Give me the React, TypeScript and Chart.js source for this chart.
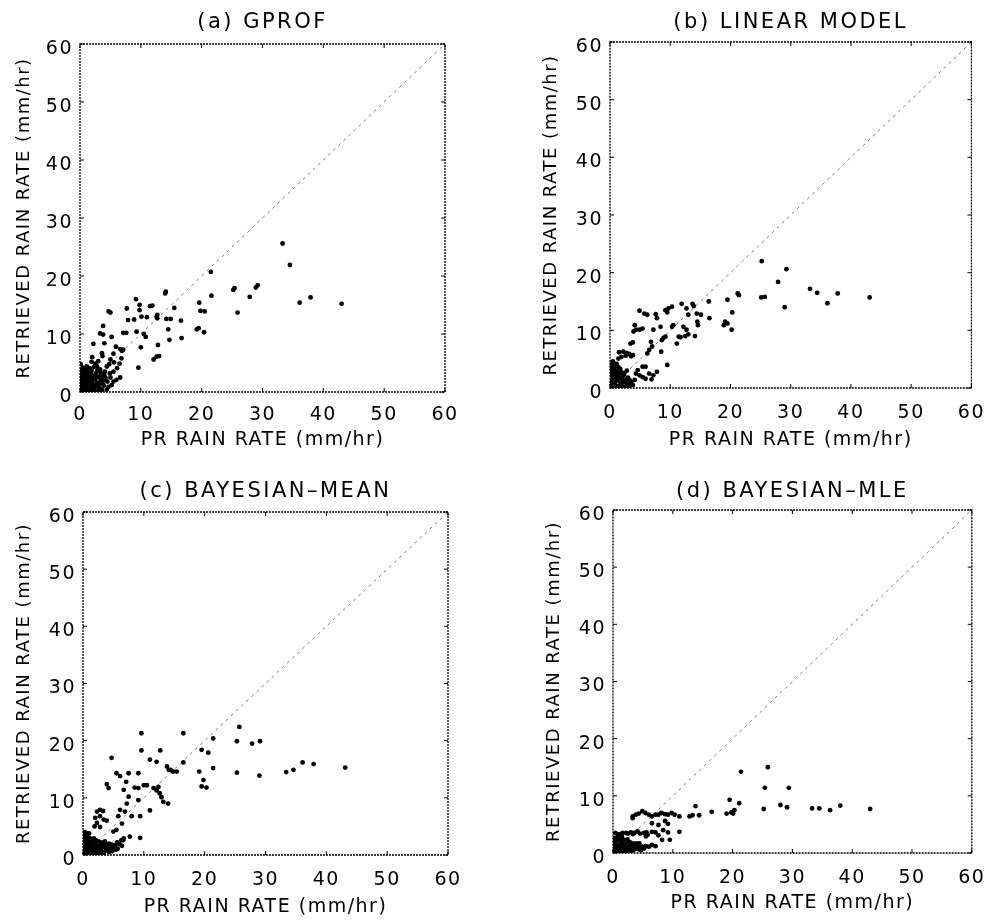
import React, { useEffect, useRef } from "react";
import { Chart, registerables } from "chart.js";

Chart.register(...registerables);

// ---------- data ----------
const AXIS_TICKS = [0, 10, 20, 30, 40, 50, 60];
const X_TITLE = "PR RAIN RATE (mm/hr)";
const Y_TITLE = "RETRIEVED RAIN RATE (mm/hr)";
const ONE_TO_ONE = [0, 60];

const gprofPoints: number[][] = [
  [33.3, 25.6], [34.5, 21.9], [36.1, 15.4], [37.9, 16.3], [43.0, 15.2],
  [29.2, 18.4], [28.9, 18.0], [27.9, 16.4], [25.9, 13.7], [25.4, 17.9], [25.2, 17.6],
  [21.6, 16.6], [21.5, 20.7], [19.6, 15.4], [19.8, 14.0], [20.5, 13.9], [19.2, 10.8], [19.5, 11.0], [20.4, 10.3],
  [16.6, 12.3], [16.7, 9.3], [15.5, 14.5], [14.2, 12.6], [14.9, 12.6], [14.5, 10.8], [14.7, 9.0], [14.1, 17.3], [14.0, 17.0],
  [12.7, 13.3], [12.7, 12.7], [12.6, 13.0], [12.8, 8.1], [12.1, 5.6], [12.6, 6.1], [13.0, 6.2], [11.5, 14.8], [11.9, 14.9],
  [11.0, 12.9], [10.1, 13.0], [10.5, 10.0], [10.8, 9.5], [10.0, 7.7], [9.6, 4.2], [9.8, 14.1], [9.8, 15.0], [9.2, 16.0], [8.9, 12.5], [9.3, 10.4],
  [7.7, 14.4], [7.9, 12.4], [7.1, 10.2], [7.6, 10.2], [6.8, 5.8], [6.5, 4.9], [6.1, 4.1], [6.6, 7.4], [6.9, 7.1], [7.1, 7.3], [5.9, 7.8], [5.5, 6.6],
  [4.7, 13.9], [5.0, 13.7], [5.2, 9.5], [3.8, 11.4], [3.3, 10.1], [3.8, 9.9], [4.0, 8.4], [2.2, 8.3], [3.6, 6.7], [3.7, 6.2],
  [0.1, 0.1], [0.3, 0.5], [0.5, 0.2], [0.2, 1.0], [0.6, 1.2], [0.9, 0.4], [1.0, 0.9], [1.3, 0.2], [1.4, 1.5], [0.4, 1.8],
  [0.8, 2.2], [1.2, 2.6], [0.3, 2.9], [0.7, 3.4], [1.1, 3.8], [0.5, 4.2], [1.6, 0.6], [1.8, 1.1], [2.0, 1.9], [1.7, 2.4],
  [2.2, 2.8], [1.5, 3.1], [1.9, 3.6], [2.4, 0.3], [2.6, 1.0], [2.8, 1.6], [2.5, 2.2], [3.0, 2.6], [2.7, 3.3], [3.2, 0.7],
  [3.1, 1.4], [3.4, 2.0], [3.3, 3.9], [2.3, 4.3], [1.9, 5.2], [2.5, 4.9], [1.1, 4.4], [0.2, 3.6], [0.1, 2.2], [3.6, 3.0],
  [4.1, 3.5], [4.9, 3.2], [5.5, 3.5], [4.4, 4.4], [4.2, 2.4], [3.9, 1.1], [4.7, 0.9], [5.2, 1.2], [5.5, 1.8], [6.0, 2.1],
  [6.6, 2.5], [4.4, 0.4], [5.0, 5.6], [5.6, 5.1], [4.8, 4.8], [1.5, 0.05], [2.9, 0.2], [3.6, 0.4], [0.05, 1.5], [0.1, 4.8],
  [3.0, 5.3], [2.0, 6.0],
  [0.5, 0.6], [0.8, 0.1], [1.1, 1.6], [1.7, 1.7], [2.3, 0.7], [2.1, 2.3], [0.9, 2.9], [1.4, 2.1], [0.6, 2.6], [1.8, 3.0],
  [2.6, 2.7], [2.9, 3.8], [3.5, 2.6], [3.9, 2.1], [3.7, 1.5], [1.2, 3.3], [0.4, 3.9], [1.6, 4.1], [2.8, 4.4], [0.2, 0.7],
  [1.9, 0.3], [3.0, 1.0], [2.2, 1.3], [0.7, 1.6], [1.3, 0.7], [3.4, 3.3], [4.5, 1.8], [4.0, 2.9], [5.0, 2.5], [0.1, 0.5],
];

const linearPoints: number[][] = [
  [25.2, 22.0], [29.3, 20.6], [27.9, 18.4], [33.2, 17.2], [34.4, 16.5], [37.8, 16.4], [36.1, 14.7], [43.1, 15.7], [29.0, 14.0], [25.1, 15.7], [25.7, 15.8],
  [21.2, 16.4], [21.4, 16.1], [19.5, 15.3], [20.3, 13.1], [19.1, 11.5], [19.5, 11.2], [18.9, 10.9], [20.2, 10.1],
  [16.4, 15.0], [16.5, 12.1], [15.1, 12.7], [14.4, 12.9], [14.5, 11.5], [14.6, 10.9], [14.1, 9.0], [13.7, 14.6], [13.9, 14.2],
  [11.9, 14.6], [12.7, 13.8], [13.0, 12.7], [9.7, 13.8], [10.3, 14.1], [9.2, 13.5], [9.5, 13.1],
  [12.2, 10.6], [12.7, 10.1], [13.0, 9.3], [12.5, 9.0], [11.4, 8.9], [11.7, 8.8], [11.1, 7.7], [10.3, 10.6], [10.5, 10.9],
  [9.2, 8.9], [8.6, 8.3], [8.9, 8.7], [8.4, 10.6], [7.8, 12.1], [7.2, 10.1],
  [6.8, 8.0], [7.0, 7.2], [6.5, 6.6], [6.2, 6.0], [8.5, 6.3], [9.5, 4.0], [7.6, 12.8], [5.7, 12.9], [6.2, 12.7], [4.9, 13.4],
  [5.4, 10.3], [4.9, 10.1], [4.3, 10.1], [3.9, 9.8], [4.1, 10.9], [3.4, 7.7], [3.8, 7.9],
  [1.5, 6.2], [2.2, 6.3], [2.7, 6.1], [3.2, 5.9], [3.8, 5.7], [1.4, 5.1], [1.9, 5.4], [2.6, 5.6], [3.5, 5.5],
  [4.3, 2.5], [4.9, 2.2], [5.4, 1.9], [5.9, 1.6], [6.5, 2.5], [7.2, 2.2], [7.8, 2.8], [5.4, 3.7], [5.9, 3.7], [4.6, 3.1], [6.9, 1.5],
  [0.1, 0.2], [0.3, 0.6], [0.6, 0.2], [0.2, 1.2], [0.7, 1.0], [1.0, 0.4], [1.2, 1.3], [1.5, 0.3], [0.4, 2.0], [0.9, 2.3],
  [1.3, 2.0], [0.2, 3.0], [0.6, 3.4], [1.0, 3.0], [1.7, 1.0], [1.9, 0.5], [2.1, 1.5], [2.4, 0.2], [2.6, 1.0], [2.9, 0.6],
  [3.2, 0.3], [3.5, 1.0], [2.3, 2.2], [1.8, 2.8], [0.3, 4.0], [0.5, 4.6], [3.0, 1.8], [3.8, 0.5], [4.1, 1.4], [2.8, 3.0],
  [1.4, 3.6], [0.1, 3.6],
  [0.4, 0.9], [0.8, 0.7], [1.1, 1.8], [1.6, 1.6], [0.5, 1.5], [0.3, 2.5], [0.8, 2.8], [1.2, 2.6], [1.6, 2.2], [2.0, 2.0],
  [2.2, 1.0], [0.7, 3.8], [1.1, 4.2], [0.2, 4.4], [2.7, 1.5], [3.3, 1.3], [2.0, 0.1], [1.2, 0.1], [0.1, 0.8], [0.5, 0.1],
  [1.7, 3.3], [2.4, 2.6],
];

const bayesMeanPoints: number[][] = [
  [25.7, 22.4], [25.3, 19.9], [27.8, 19.5], [29.1, 19.9], [16.5, 21.3], [9.6, 21.3], [21.4, 20.4], [19.5, 18.4], [20.6, 17.9], [12.7, 18.3], [9.6, 18.3], [4.7, 17.0],
  [11.0, 16.7], [12.1, 16.3], [16.5, 16.2], [13.8, 15.5], [14.4, 14.9], [14.8, 14.6], [15.4, 14.6], [14.1, 14.9], [21.4, 15.2], [19.1, 14.6], [19.8, 13.1], [19.5, 12.0], [20.3, 11.8],
  [25.3, 14.4], [29.0, 13.9], [33.4, 14.5], [34.6, 14.9], [36.1, 16.2], [37.9, 15.9], [43.1, 15.3],
  [5.5, 14.3], [6.1, 13.8], [7.5, 14.3], [9.1, 14.3], [7.1, 12.8], [6.7, 11.4], [3.9, 12.4], [4.2, 11.7], [8.5, 11.8], [9.1, 11.7], [10.0, 12.2], [10.5, 12.2],
  [11.6, 11.7], [12.1, 11.3], [12.6, 10.8], [12.9, 10.1], [13.2, 9.3], [12.4, 11.9], [14.0, 9.0], [7.5, 10.2], [7.2, 9.0], [6.9, 7.6], [9.1, 9.6], [11.0, 7.8], [8.0, 6.8], [9.4, 6.8],
  [6.1, 7.9], [5.8, 6.8], [6.4, 5.5], [5.5, 4.4], [5.0, 4.1], [7.7, 3.2], [9.4, 3.0], [6.6, 2.6],
  [2.3, 7.6], [2.8, 7.9], [3.3, 7.7], [2.8, 6.8], [2.0, 6.5], [2.3, 5.6], [3.4, 6.2], [3.9, 6.0], [2.8, 4.9], [1.9, 5.0],
  [0.1, 0.2], [0.3, 0.7], [0.6, 0.2], [0.2, 1.4], [0.7, 1.1], [1.0, 0.5], [1.3, 1.3], [1.6, 0.3], [0.4, 2.2], [0.9, 2.5],
  [1.4, 2.1], [0.2, 3.0], [0.6, 3.4], [1.1, 3.0], [1.8, 1.2], [2.1, 0.6], [2.3, 1.6], [2.6, 0.3], [2.9, 1.1], [3.2, 0.6],
  [3.5, 1.4], [3.8, 0.8], [4.1, 1.6], [4.4, 1.0], [4.7, 1.8], [5.0, 1.2], [5.3, 1.6], [5.7, 1.1], [6.0, 1.9], [2.5, 2.4],
  [1.8, 2.9], [3.0, 2.2], [0.3, 4.0], [3.3, 1.9], [4.3, 0.5], [0.1, 3.6], [1.0, 3.8], [5.6, 2.2], [6.3, 2.6], [6.7, 2.9],
  [0.05, 1.0],
  [0.4, 0.4], [0.8, 0.8], [1.2, 0.2], [0.5, 1.6], [1.0, 1.9], [1.6, 1.7], [2.0, 2.1], [2.4, 1.1], [2.7, 1.7], [3.1, 1.5],
  [3.4, 0.3], [3.7, 1.9], [4.0, 1.2], [4.6, 1.4], [5.1, 1.7], [5.4, 0.9], [0.7, 2.9], [1.4, 2.7], [2.1, 2.6], [0.3, 3.4],
  [0.6, 3.8], [1.5, 0.7], [2.0, 0.2], [2.9, 0.5], [4.8, 0.7], [1.1, 1.4], [0.2, 2.6], [3.6, 2.4], [4.3, 2.0], [6.4, 1.6],
];

const bayesMlePoints: number[][] = [
  [25.9, 15.0], [21.4, 14.2], [25.4, 11.4], [29.4, 11.4], [19.5, 9.3], [21.1, 8.7], [25.2, 7.7], [28.0, 8.4], [29.1, 8.0],
  [33.3, 7.8], [34.5, 7.8], [36.3, 7.5], [38.0, 8.3], [43.0, 7.7],
  [19.0, 6.9], [19.8, 7.1], [20.3, 7.5], [20.1, 6.9], [16.5, 7.2], [13.8, 8.2], [14.4, 6.6], [13.3, 6.6], [12.8, 6.4],
  [11.1, 6.4], [10.3, 6.7], [9.8, 7.0], [9.2, 6.7], [8.7, 6.8], [8.1, 7.0], [7.6, 6.7], [7.1, 6.7], [6.5, 6.4], [6.0, 6.7],
  [5.4, 7.0], [4.9, 7.3], [4.3, 6.9], [3.8, 6.7], [3.3, 6.4], [3.3, 6.1],
  [8.7, 5.6], [9.2, 5.1], [7.6, 4.9], [6.5, 5.2],
  [11.1, 3.7], [9.5, 2.3], [8.2, 2.3], [7.6, 3.1], [8.4, 4.0], [9.2, 3.6], [6.5, 3.7], [7.1, 3.6], [5.5, 2.9],
  [2.2, 3.5], [3.0, 3.6], [3.6, 3.5], [4.1, 3.8], [5.6, 3.6], [5.8, 3.2],
  [5.5, 1.2], [6.0, 1.1], [6.5, 1.4], [7.1, 1.2], [1.1, 2.2], [1.7, 1.9], [2.8, 1.9], [3.3, 1.7], [3.9, 1.7], [4.4, 1.7], [4.9, 1.1],
  [0.1, 0.1], [0.3, 0.5], [0.6, 0.2], [0.2, 1.0], [0.7, 0.9], [1.0, 0.4], [1.3, 1.1], [1.6, 0.3], [0.4, 1.8], [0.9, 2.4],
  [1.4, 1.6], [0.3, 2.6], [0.8, 3.0], [1.9, 0.8], [2.2, 0.3], [2.5, 1.2], [2.8, 0.6], [3.1, 1.0], [3.4, 0.5], [3.7, 1.2],
  [4.0, 0.8], [4.4, 0.6], [2.0, 1.6], [1.5, 2.8], [0.5, 0.7], [2.4, 2.4],
  [0.4, 0.3], [0.8, 0.6], [1.2, 0.7], [0.5, 1.3], [1.0, 1.4], [1.6, 1.3], [2.0, 0.5], [2.3, 1.0], [2.7, 1.3], [3.0, 0.4],
  [3.5, 0.9], [0.2, 2.0], [0.6, 2.2], [1.3, 2.4], [1.8, 2.3], [4.2, 1.2], [4.7, 0.5], [5.2, 0.8], [0.9, 0.1], [1.8, 0.1],
  [0.3, 1.5], [2.6, 2.0], [1.0, 3.3], [0.4, 3.5], [1.6, 3.5], [2.5, 3.4], [3.3, 3.3], [4.5, 3.4], [5.2, 3.5],
];

const PANEL_TITLES = ["(a) GPROF", "(b) LINEAR MODEL", "(c) BAYESIAN\u2013MEAN", "(d) BAYESIAN\u2013MLE"];
const PANEL_DATA = [gprofPoints, linearPoints, bayesMeanPoints, bayesMlePoints];

// ---------- layout (pixels) ----------
type Layout = {
  left: number; top: number; width: number; height: number;
  yAxisW: number; padTop: number; padRight: number; xAxisH: number;
  xTickPad: number; xTitlePad: number; yTitlePad: number; titleY: number;
};

const LAYOUTS: Layout[] = [
  { left: 0, top: 0, width: 490, height: 460, yAxisW: 80, padTop: 44, padRight: 45, xAxisH: 68, xTickPad: 12, xTitlePad: 8.6, yTitlePad: 14, titleY: 23 },
  { left: 530, top: 0, width: 469, height: 460, yAxisW: 80, padTop: 42, padRight: 19, xAxisH: 72, xTickPad: 14, xTitlePad: 8.6, yTitlePad: 11, titleY: 23 },
  { left: 0, top: 460, width: 490, height: 461, yAxisW: 83, padTop: 52, padRight: 42, xAxisH: 66, xTickPad: 13.6, xTitlePad: 2.6, yTitlePad: 14, titleY: 32 },
  { left: 530, top: 460, width: 469, height: 461, yAxisW: 83, padTop: 50, padRight: 16, xAxisH: 68, xTickPad: 13.6, xTitlePad: 6.6, yTitlePad: 14, titleY: 32 },
];

const FONT = "DejaVu Sans";

function Panel({ title, points, L }: { title: string; points: number[][]; L: Layout }) {
  const ref = useRef<HTMLCanvasElement | null>(null);

  useEffect(() => {
    const canvas = ref.current;
    if (!canvas) return;

    const framePlugin = {
      id: "idlFrame",
      beforeLayout(chart: any) {
        chart.ctx.letterSpacing = "1.5px";
      },
      beforeDraw(chart: any) {
        chart.ctx.letterSpacing = "1.5px";
      },
      afterDraw(chart: any) {
        const { ctx, chartArea: a, scales } = chart;
        ctx.save();
        ctx.strokeStyle = "#000";
        ctx.lineWidth = 1.3;
        ctx.setLineDash([2, 1]);
        ctx.strokeRect(a.left, a.top, a.right - a.left, a.bottom - a.top);
        ctx.setLineDash([]);
        ctx.lineWidth = 1;
        ctx.beginPath();
        for (const v of AXIS_TICKS) {
          const px = scales.x.getPixelForValue(v);
          const py = scales.y.getPixelForValue(v);
          ctx.moveTo(px, a.bottom); ctx.lineTo(px, a.bottom - 4);
          ctx.moveTo(px, a.top); ctx.lineTo(px, a.top + 4);
          ctx.moveTo(a.left, py); ctx.lineTo(a.left + 4, py);
          ctx.moveTo(a.right, py); ctx.lineTo(a.right - 4, py);
        }
        ctx.stroke();
        ctx.letterSpacing = "2.5px";
        ctx.font = `21px "${FONT}"`;
        ctx.fillStyle = "#000";
        ctx.textAlign = "center";
        ctx.textBaseline = "middle";
        ctx.fillText(title, (a.left + a.right) / 2, L.titleY);
        ctx.restore();
      },
    };

    const chart = new Chart(canvas, {
      type: "scatter",
      data: {
        datasets: [
          {
            data: points.map(([x, y]) => ({ x, y })),
            backgroundColor: "#000",
            borderColor: "#000",
            borderWidth: 0,
            pointRadius: 2.4,
            order: 0,
          },
          {
            data: ONE_TO_ONE.map((v) => ({ x: v, y: v })),
            showLine: true,
            borderColor: "#7a7a7a",
            borderWidth: 1,
            borderDash: [3, 4],
            pointRadius: 0,
            order: 1,
          },
        ],
      } as any,
      options: {
        responsive: false,
        animation: false,
        layout: { padding: { top: L.padTop, right: L.padRight, left: 0, bottom: 0 } },
        plugins: {
          legend: { display: false },
          tooltip: { enabled: false },
          title: { display: false },
        },
        scales: {
          x: {
            type: "linear",
            position: "bottom",
            min: 0,
            max: 60,
            border: { display: false },
            grid: { display: false, drawTicks: false },
            ticks: {
              stepSize: 10,
              padding: L.xTickPad,
              color: "#000",
              maxRotation: 0,
              autoSkip: false,
              font: { family: FONT, size: 19 },
            },
            title: {
              display: true,
              text: X_TITLE,
              color: "#000",
              font: { family: FONT, size: 19 },
              padding: { top: 0, bottom: L.xTitlePad },
            },
            afterFit: (s: any) => {
              s.height = L.xAxisH;
            },
          },
          y: {
            type: "linear",
            position: "left",
            min: 0,
            max: 60,
            border: { display: false },
            grid: { display: false, drawTicks: false },
            ticks: {
              stepSize: 10,
              padding: 7,
              labelOffset: 5,
              color: "#000",
              autoSkip: false,
              font: { family: FONT, size: 19 },
            },
            title: {
              display: true,
              text: Y_TITLE,
              color: "#000",
              font: { family: FONT, size: 18 },
              padding: { top: L.yTitlePad, bottom: 0 },
            },
            afterFit: (s: any) => {
              s.width = L.yAxisW;
            },
          },
        },
      } as any,
      plugins: [framePlugin],
    });

    return () => chart.destroy();
  }, [title, points, L]);

  return (
    <canvas
      ref={ref}
      width={L.width}
      height={L.height}
      style={{ position: "absolute", left: L.left, top: L.top, width: L.width, height: L.height }}
    />
  );
}

export default function App() {
  return (
    <div
      style={{
        position: "absolute",
        left: 0,
        top: 0,
        width: 999,
        height: 921,
        background: "#fff",
        overflow: "hidden",
      }}
    >
      {PANEL_TITLES.map((t, i) => (
        <Panel key={t} title={t} points={PANEL_DATA[i]} L={LAYOUTS[i]} />
      ))}
    </div>
  );
}
